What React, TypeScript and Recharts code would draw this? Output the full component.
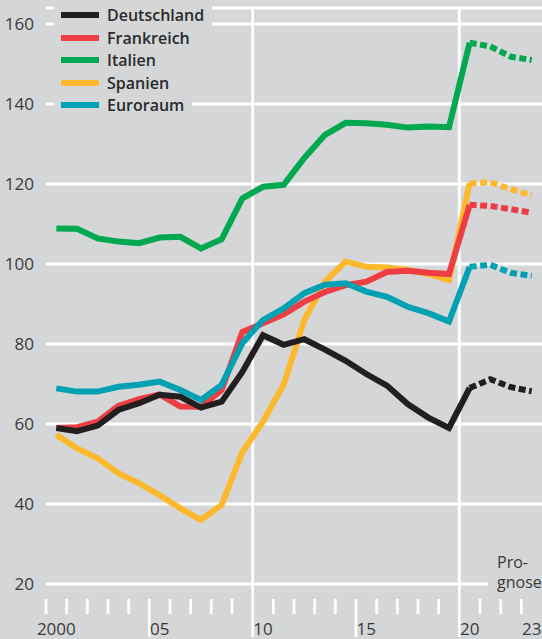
import React from 'react';
import { LineChart, Line, XAxis, YAxis, CartesianGrid, ReferenceLine, Legend } from 'recharts';

// Staatsverschuldung in % des BIP, Jahreswerte (2021-2023 Prognose)
const YEARS = [2000, 2001, 2002, 2003, 2004, 2005, 2006, 2007, 2008, 2009, 2010, 2011, 2012, 2013, 2014, 2015, 2016, 2017, 2018, 2019, 2020, 2021, 2022, 2023];
const deutschland = [59, 58.2, 59.6, 63.5, 65.2, 67.3, 66.8, 64.1, 65.6, 73, 82.2, 79.8, 81.2, 78.6, 75.8, 72.5, 69.6, 65, 61.6, 59, 69, 71.2, 69.2, 68.2];
const frankreich = [59, 59.2, 60.6, 64.5, 66.2, 67.4, 64.4, 64.3, 68.5, 83, 85.2, 87.4, 90.6, 93, 94.7, 95.6, 98, 98.3, 97.8, 97.5, 114.8, 114.5, 113.7, 112.8];
const italien = [108.9, 108.8, 106.4, 105.6, 105.2, 106.6, 106.8, 103.9, 106.2, 116.4, 119.3, 119.8, 126.5, 132.3, 135.3, 135.2, 134.8, 134.1, 134.4, 134.2, 155.3, 154.4, 151.8, 151];
const spanien = [57.3, 53.9, 51.4, 47.7, 45.2, 42.2, 38.9, 36, 39.8, 53, 60.6, 69.8, 86, 95.6, 100.6, 99.3, 99.1, 98.5, 97.5, 96, 120.2, 120.4, 118.7, 117.1];
const euroraum = [68.9, 68.1, 68.1, 69.3, 69.8, 70.6, 68.5, 66, 69.8, 80.2, 86, 88.9, 92.7, 94.8, 95.2, 93.1, 91.8, 89.3, 87.7, 85.6, 99.3, 99.8, 97.8, 97];

const FORECAST_FROM = 2020;
const Y_TICKS = [20, 40, 60, 80, 100, 120, 140, 160];
const X_LABELS: Record<number, string> = { 2000: '2000', 2005: '05', 2010: '10', 2015: '15', 2020: '20', 2023: '23' };

const SERIES = [
  { key: 'es', name: 'Spanien', color: '#fdb82b', values: spanien },
  { key: 'it', name: 'Italien', color: '#00a84f', values: italien },
  { key: 'fr', name: 'Frankreich', color: '#ef3d44', values: frankreich },
  { key: 'ea', name: 'Euroraum', color: '#00a1b2', values: euroraum },
  { key: 'de', name: 'Deutschland', color: '#231f20', values: deutschland },
];
const LEGEND_ORDER = ['de', 'fr', 'it', 'es', 'ea'];

const BG = '#d5d6d8';
const TEXT = '#3a3a3a';
const FONT = '"Open Sans", "Noto Sans", sans-serif';

const W = 542;
const H = 639;
const MARGIN = { top: 8, right: 0, bottom: 0, left: 0 };
const Y_AXIS_W = 46;
const X_AXIS_H = 55;
const HALF_YEAR = (W - Y_AXIS_W - MARGIN.right) / 24 / 2;

// one row per year, value plotted in the middle of the year
const data = YEARS.map((year, i) => {
  const row: any = { x: year + 0.5 };
  SERIES.forEach((s) => {
    row[s.key] = year <= FORECAST_FROM ? s.values[i] : null;
    row[s.key + 'F'] = year >= FORECAST_FROM ? s.values[i] : null;
  });
  return row;
});

const YearTick = (props: any) => {
  const { x, y, payload } = props;
  const year = payload.value;
  const label = X_LABELS[year];
  let y1 = y + 15;
  let y2 = y + 30;
  if (year === 2005 || year === 2015) y2 = y + 53;
  if (year === 2010 || year === 2020) {
    y1 = y;
    y2 = y + 53;
  }
  return (
    <g>
      <line x1={x} x2={x} y1={y1} y2={y2} stroke="#fff" strokeWidth={2.7} />
      {label && (
        <text x={x + HALF_YEAR} y={y + 51} textAnchor="middle" fill={TEXT} fontSize={17} fontFamily={FONT}>
          {label}
        </text>
      )}
    </g>
  );
};

const LegendBox = () => (
  <div style={{ fontFamily: FONT }}>
    {LEGEND_ORDER.map((k) => {
      const s = SERIES.find((d) => d.key === k)!;
      return (
        <div
          key={k}
          style={{
            display: 'flex',
            alignItems: 'center',
            height: 22.5,
            width: 'fit-content',
            background: BG,
            paddingLeft: 7,
            paddingRight: 8,
          }}
        >
          <span style={{ display: 'inline-block', width: 38, height: 6, background: s.color, marginRight: 8 }} />
          <span style={{ fontSize: 16, fontWeight: 600, color: '#2a2a2a', lineHeight: '22px' }}>{s.name}</span>
        </div>
      );
    })}
  </div>
);

export default function App() {
  return (
    <div style={{ position: 'absolute', left: 0, top: 0, width: W, height: H, background: BG, overflow: 'hidden' }}>
      <LineChart width={W} height={H} data={data} margin={MARGIN}>
        <CartesianGrid horizontal vertical={false} stroke="#fff" strokeWidth={3} fill="none" />
        <ReferenceLine x={2010} stroke="#fff" strokeWidth={3} />
        <ReferenceLine x={2020} stroke="#fff" strokeWidth={3} />
        <XAxis
          dataKey="x"
          type="number"
          domain={[2000, 2024]}
          ticks={YEARS}
          interval={0}
          height={X_AXIS_H}
          axisLine={false}
          tickLine={false}
          tickSize={0}
          tickMargin={0}
          tick={<YearTick />}
        />
        <YAxis
          type="number"
          domain={[20, 164]}
          ticks={Y_TICKS}
          width={Y_AXIS_W}
          axisLine={false}
          tickLine={false}
          tickSize={0}
          tickMargin={12}
          tick={{ fill: TEXT, fontSize: 17, fontFamily: FONT }}
        />
        <Legend
          layout="horizontal"
          verticalAlign="middle"
          align="center"
          wrapperStyle={{ left: 54, top: 4, width: 'auto' }}
          content={<LegendBox />}
        />
        {SERIES.map((s) => (
          <Line
            key={s.key}
            dataKey={s.key}
            name={s.name}
            stroke={s.color}
            strokeWidth={6}
            dot={false}
            activeDot={false}
            isAnimationActive={false}
            legendType="none"
          />
        ))}
        {SERIES.map((s) => (
          <Line
            key={s.key + 'F'}
            dataKey={s.key + 'F'}
            stroke={s.color}
            strokeWidth={6}
            strokeDasharray="7 3.5"
            dot={false}
            activeDot={false}
            isAnimationActive={false}
            legendType="none"
          />
        ))}
      </LineChart>
      <div
        style={{
          position: 'absolute',
          left: 488,
          top: 552,
          width: 54,
          paddingLeft: 9,
          boxSizing: 'border-box',
          background: BG,
          fontFamily: FONT,
          fontSize: 16,
          lineHeight: '20px',
          color: TEXT,
        }}
      >
        Pro-
        <br />
        gnose
      </div>
    </div>
  );
}
